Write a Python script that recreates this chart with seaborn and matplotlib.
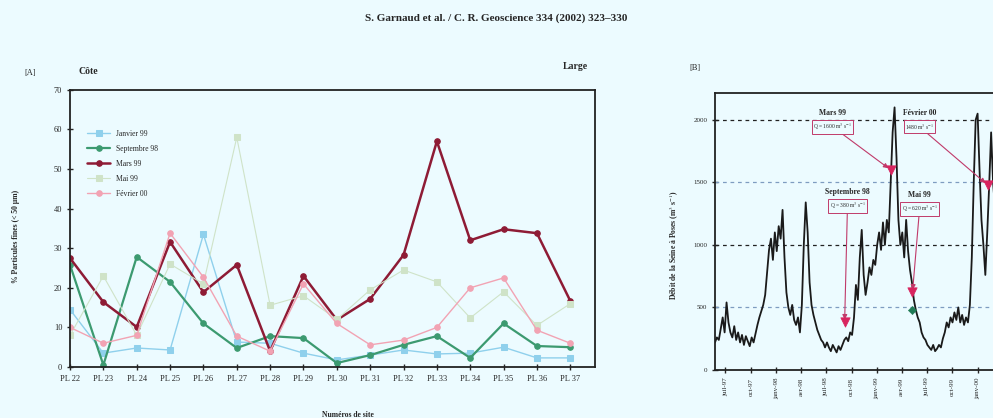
import pandas as pd
import seaborn as sns
import matplotlib.pyplot as plt
import matplotlib.dates as mdates
from matplotlib.ticker import FuncFormatter

# ---- panel A : fine particles per site ----
sites = ["PL 22", "PL 23", "PL 24", "PL 25", "PL 26", "PL 27", "PL 28", "PL 29",
         "PL 30", "PL 31", "PL 32", "PL 33", "PL 34", "PL 35", "PL 36", "PL 37"]
janvier_99 = [14.5, 3.5, 4.8, 4.3, 33.5, 6.3, 6.0, 3.5, 1.8, 3.0, 4.3, 3.3, 3.5, 5.0, 2.3, 2.3]
septembre_98 = [25.8, 0.5, 27.8, 21.5, 11.0, 4.8, 7.8, 7.3, 1.0, 3.0, 5.6, 7.8, 2.3, 11.0, 5.3, 5.0]
mars_99 = [27.5, 16.4, 10.1, 31.6, 18.9, 25.8, 4.0, 23.0, 11.9, 17.2, 28.3, 57.0, 32.0, 34.8, 33.8, 16.7]
mai_99 = [8.0, 23.0, 8.0, 26.0, 21.0, 58.0, 15.6, 18.0, 12.0, 19.5, 24.5, 21.5, 12.4, 19.0, 10.5, 16.0]
fevrier_00 = [10.0, 6.0, 8.0, 33.8, 22.7, 7.8, 4.0, 21.0, 11.0, 5.6, 6.8, 10.0, 20.0, 22.5, 9.3, 6.0]

series_names = ["Janvier 99", "Septembre 98", "Mars 99", "Mai 99", "Février 00"]
series_values = [janvier_99, septembre_98, mars_99, mai_99, fevrier_00]
series_colors = ["#8fd0ec", "#3c9a70", "#8e1b35", "#cfe3c8", "#f2a3b3"]
series_markers = ["s", "o", "o", "s", "o"]
series_lw = [1.0, 1.6, 1.8, 0.8, 1.0]

# ---- panel B : Seine discharge at Poses, weekly from 1997-05-24 ----
flow_start = "1997-05-24"
flow = [220, 260, 240, 330, 420, 300, 540, 380, 300, 260, 350, 240, 300, 220, 280, 200,
        270, 230, 190, 260, 220, 290, 360, 420, 470, 520, 600, 780, 960, 1050, 880, 1100,
        950, 1150, 1050, 1280, 900, 620, 500, 440, 520, 400, 360, 420, 300, 520, 1000, 1340,
        1100, 700, 520, 440, 380, 320, 280, 240, 220, 180, 220, 180, 150, 200, 170, 140,
        190, 160, 200, 240, 260, 230, 300, 280, 420, 680, 560, 900, 1120, 760, 600, 700,
        820, 760, 880, 840, 1000, 1100, 960, 1180, 1000, 1200, 1100, 1500, 1900, 2100, 1700, 1200,
        1000, 1100, 900, 1200, 950, 800, 700, 560, 480, 420, 380, 300, 260, 240, 200, 180,
        160, 200, 150, 170, 200, 180, 250, 300, 380, 340, 420, 380, 460, 400, 500, 380,
        440, 360, 420, 380, 520, 900, 1500, 2000, 2050, 1600, 1200, 1000, 760, 1100, 1480, 1900,
        1500, 1300]
sample_names = ["Septembre 98", "Mars 99", "Mai 99", "Février 00"]
sample_dates = ["1998-09-06", "1999-02-20", "1999-05-10", "2000-02-06"]
sample_flow = [380, 1600, 620, 1480]
sample_box = [r"Q = 380 m$^3$ s$^{-1}$", r"Q = 1600 m$^3$ s$^{-1}$",
              r"Q = 620 m$^3$ s$^{-1}$", r"1480 m$^3$ s$^{-1}$"]
mai_green_flow = 480
month_fr = {1: "janv", 4: "avr", 7: "juil", 10: "oct"}

bg = "#ecfbff"
sns.set_theme(style="ticks")
plt.rcParams["font.family"] = ["Liberation Serif", "DejaVu Serif"]
plt.rcParams["mathtext.fontset"] = "stix"
plt.rcParams["axes.facecolor"] = bg
plt.rcParams["figure.facecolor"] = bg

fig = plt.figure(figsize=(9.93, 4.18), dpi=100)
ax = fig.add_axes([0.0705, 0.122, 0.529, 0.663])
bx = fig.add_axes([0.72, 0.115, 0.287, 0.6625])

# panel A
x_pos = list(range(len(sites)))
for name, vals, col, mk, lw in zip(series_names, series_values, series_colors,
                                   series_markers, series_lw):
    sns.lineplot(x=x_pos, y=vals, ax=ax, color=col, marker=mk, markersize=4,
                 markeredgecolor=col, linewidth=lw, label=name)
ax.set_xlim(0, 15.75)
ax.set_ylim(0, 70)
ax.set_xticks(x_pos, sites)
ax.set_yticks(range(0, 71, 10))
ax.tick_params(labelsize=6, direction="inout", length=4, width=1)
for s in ax.spines.values():
    s.set_linewidth(1.3)
    s.set_color("#222222")
ax.set_ylabel("% Particules fines (< 50 µm)", fontsize=5.5, fontweight="bold")
ax.yaxis.set_label_coords(-0.095, 0.47)
ax.set_xlabel("Numéros de site", fontsize=5.5, fontweight="bold")
ax.xaxis.set_label_coords(0.53, -0.16)
ax.legend(loc="upper left", bbox_to_anchor=(0.02, 0.88), frameon=False,
          fontsize=5.5, handlelength=3, labelspacing=0.9)

# panel B
flow_df = pd.DataFrame({"date": pd.date_range(flow_start, periods=len(flow), freq="7D"),
                        "flow": flow})
sns.lineplot(data=flow_df, x="date", y="flow", ax=bx, color="#1a1a1a", linewidth=1.3)
for lvl, col in zip([500, 1000, 1500, 2000], ["#7e9cc0", "#222222", "#7e9cc0", "#222222"]):
    bx.axhline(lvl, color=col, linestyle=(0, (3, 3)), linewidth=0.9, zorder=1)

sdates = pd.to_datetime(sample_dates)
sns.scatterplot(x=sdates, y=sample_flow, ax=bx, color="#d8245f", marker="v", s=45,
                edgecolor="#d8245f", zorder=5)
sns.scatterplot(x=[sdates[2]], y=[mai_green_flow], ax=bx, color="#1f7a55", marker="D",
                s=18, edgecolor="#1f7a55", zorder=6)

label_xy = [(0.465, 0.643), (0.413, 0.928), (0.718, 0.632), (0.718, 0.928)]
for name, d, q, box, (lx, ly) in zip(sample_names, sdates, sample_flow, sample_box, label_xy):
    bx.text(lx, ly, name, transform=bx.transAxes, ha="center", va="center",
            fontsize=5.5, fontweight="bold")
    bx.annotate(box, xy=(d, q), xytext=(lx, ly - 0.05), textcoords="axes fraction",
                ha="center", va="center", fontsize=4,
                bbox=dict(boxstyle="square,pad=0.25", fc=bg, ec="#c03a6a", lw=0.7),
                arrowprops=dict(arrowstyle="-|>", color="#c03a6a", lw=0.8,
                                mutation_scale=7, shrinkA=0, shrinkB=2))

bx.set_xlim(pd.Timestamp(flow_start), pd.Timestamp("2000-03-22"))
bx.set_ylim(0, 2215)
bx.set_yticks([0, 500, 1000, 1500, 2000])
bx.xaxis.set_major_locator(mdates.MonthLocator(bymonth=[1, 4, 7, 10]))
bx.xaxis.set_major_formatter(FuncFormatter(
    lambda v, p: f"{month_fr[mdates.num2date(v).month]}-{mdates.num2date(v).year % 100:02d}"))
bx.tick_params(axis="x", labelrotation=90)
bx.tick_params(labelsize=5, direction="inout", length=4, width=1)
bx.spines["right"].set_visible(False)
for s in ["left", "top", "bottom"]:
    bx.spines[s].set_linewidth(1.3)
    bx.spines[s].set_color("#222222")
bx.set_xlabel("")
bx.set_ylabel(r"Débit de la Seine à Poses (m$^3$ s$^{-1}$)", fontsize=5.5, fontweight="bold")
bx.yaxis.set_label_coords(-0.12, 0.45)

fig.text(0.5, 0.957, "S. Garnaud et al. / C. R. Geoscience 334 (2002) 323–330",
         ha="center", va="center", fontsize=8, fontweight="bold")
fig.text(0.030, 0.825, "[A]", fontsize=6, ha="center", va="center")
fig.text(0.089, 0.828, "Côte", fontsize=7, fontweight="bold", ha="center", va="center")
fig.text(0.579, 0.840, "Large", fontsize=7, fontweight="bold", ha="center", va="center")
fig.text(0.700, 0.837, "[B]", fontsize=6, ha="center", va="center")

fig.savefig("out.png", dpi=100, facecolor=bg)
